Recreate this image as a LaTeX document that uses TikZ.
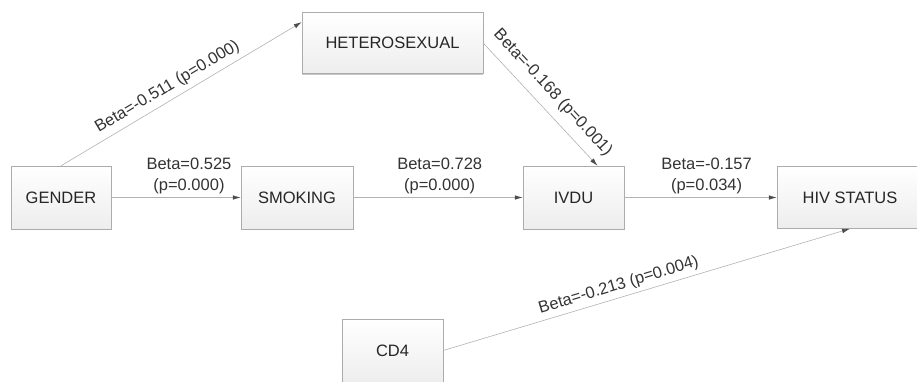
\documentclass[tikz,border=0pt]{standalone}
\usepackage{fontspec}
\setmainfont{Liberation Sans}
\usetikzlibrary{arrows.meta,shadows}
\tikzset{
	varbox/.style={draw=gray!65, top color=white, bottom color=gray!14, text=black!85,
		inner sep=0pt, font=\fontsize{16.5}{20}\selectfont},
	path/.style={draw=gray!60, line width=0.6pt,
		-{Latex[length=8pt,width=4.5pt,color=black!70]}},
	coef/.style={font=\fontsize{16.5}{21}\selectfont, text=black!80, inner sep=3pt}
}
\begin{document}
\begin{tikzpicture}[x=1pt,y=-1pt]
	\useasboundingbox (0,0) rectangle (917,381);

	% variables
	\node[varbox, minimum width=100, minimum height=63] (gender) at (61,197.5) {GENDER};
	\node[varbox, minimum width=112, minimum height=63] (smoking) at (297,197.5) {SMOKING};
	\node[varbox, minimum width=181, minimum height=61,
		drop shadow={shadow xshift=0pt, shadow yshift=-1.5pt, opacity=0.45}] (het) at (392.5,43) {HETEROSEXUAL};
	\node[varbox, minimum width=101, minimum height=63] (ivdu) at (573.5,197.5) {IVDU};
	\node[varbox, minimum width=146, minimum height=62] (hiv) at (850,197.5) {HIV STATUS};
	\node[varbox, minimum width=101, minimum height=63] (cd4) at (392.5,350.5) {CD4};

	% paths
	\draw[path] (gender.north) -- (het.167)
		node [coef, sloped, above=2pt, pos=0.47] {Beta=-0.511 (p=0.000)};
	\draw[path] (het.east) -- ([xshift=24]ivdu.north)
		node [coef, sloped, above=6pt, pos=0.5] {Beta=-0.168 (p=0.001)};
	\draw[path] (gender) -- (smoking)
		node [coef, above, align=center, pos=0.6] {Beta=0.525\\(p=0.000)};
	\draw[path] (smoking) -- (ivdu)
		node [coef, above, align=center, pos=0.51] {Beta=0.728\\(p=0.000)};
	\draw[path] (ivdu) -- (hiv)
		node [coef, above, align=center, pos=0.54] {Beta=-0.157\\(p=0.034)};
	\draw[path] (cd4.east) -- (hiv.south)
		node [coef, sloped, above=1pt, pos=0.44] {Beta=-0.213 (p=0.004)};
\end{tikzpicture}
\end{document}
